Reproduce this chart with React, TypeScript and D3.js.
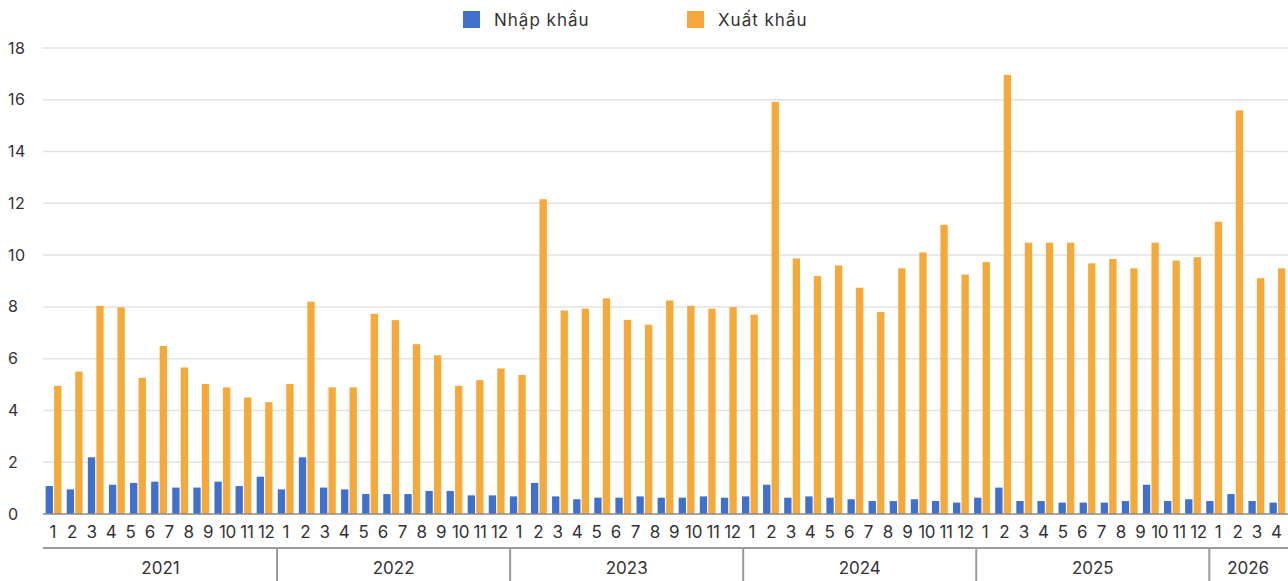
import React, { useEffect, useRef } from 'react';
import * as d3 from 'd3';

// Nhập khẩu (blue) and Xuất khẩu (orange), one value per bar
const imports = [
  1.08, 0.95, 2.19, 1.13, 1.2, 1.25, 1.02, 1.02, 1.25, 1.08, 1.44, 0.95,
  2.19, 1.02, 0.95, 0.77, 0.77, 0.77, 0.89, 0.89, 0.72, 0.72, 0.68, 1.2,
  0.68, 0.57, 0.63, 0.63, 0.68, 0.63, 0.63, 0.68, 0.63, 0.68, 1.13, 0.63,
  0.68, 0.63, 0.57, 0.5, 0.5, 0.57, 0.5, 0.44, 0.63, 1.02, 0.5, 0.5,
  0.44, 0.44, 0.44, 0.5, 1.13, 0.5, 0.57, 0.5, 0.77, 0.5, 0.44,
];
const exports = [
  4.95, 5.5, 8.04, 7.98, 5.26, 6.49, 5.66, 5.02, 4.89, 4.5, 4.32, 5.02,
  8.2, 4.89, 4.89, 7.73, 7.49, 6.56, 6.13, 4.95, 5.17, 5.62, 5.37, 12.16,
  7.86, 7.93, 8.33, 7.5, 7.31, 8.25, 8.04, 7.93, 7.99, 7.7, 15.92, 9.87,
  9.19, 9.6, 8.74, 7.8, 9.49, 10.1, 11.17, 9.25, 9.73, 16.96, 10.48, 10.48,
  10.48, 9.68, 9.85, 9.49, 10.48, 9.79, 9.92, 11.29, 15.59, 9.11, 9.49,
];

const years = ['2021', '2022', '2023', '2024', '2025', '2026'];
const monthsPerYear = [12, 12, 12, 12, 12, 4];
const yTicks = [0, 2, 4, 6, 8, 10, 12, 14, 16, 18];

const W = 1288;
const H = 581;
const BLUE = '#3f70cc';
const ORANGE = '#f6a93b';
const FONT = 'Inter, "Noto Sans", sans-serif';

export default function App() {
  const svgRef = useRef<SVGSVGElement>(null);

  useEffect(() => {
    if (!svgRef.current) return;
    const svg = d3.select(svgRef.current);
    svg.selectAll('*').remove();

    const left = 43;
    const right = W;
    const y = d3.scaleLinear().domain([0, 18]).range([514, 48]);

    // gridlines
    svg.append('g')
      .selectAll('line')
      .data(yTicks.filter(t => t > 0))
      .join('line')
      .attr('x1', left)
      .attr('x2', right)
      .attr('y1', d => y(d))
      .attr('y2', d => y(d))
      .attr('stroke', '#e2e2e2')
      .attr('stroke-width', 1.5);

    // y labels (left aligned)
    svg.append('g')
      .selectAll('text')
      .data(yTicks)
      .join('text')
      .attr('x', 8)
      .attr('y', d => y(d))
      .attr('dy', '0.35em')
      .attr('font-family', FONT)
      .attr('font-size', 16)
      .attr('letter-spacing', 0.5)
      .attr('fill', '#333')
      .text(d => d);

    // bars
    const idx = imports.map((_, i) => i);
    const x0 = d3.scaleBand<number>()
      .domain(idx)
      .range([left, right])
      .paddingInner(0.25)
      .paddingOuter(0.125);
    const x1 = d3.scaleBand<string>()
      .domain(['imp', 'exp'])
      .range([0, x0.bandwidth()])
      .paddingInner(0.14);

    const bars = svg.append('g');
    bars.selectAll('.imp')
      .data(imports)
      .join('rect')
      .attr('class', 'imp')
      .attr('x', (_, i) => (x0(i) || 0) + (x1('imp') || 0))
      .attr('y', d => y(d))
      .attr('width', x1.bandwidth())
      .attr('height', d => y(0) - y(d))
      .attr('fill', BLUE);
    bars.selectAll('.exp')
      .data(exports)
      .join('rect')
      .attr('class', 'exp')
      .attr('x', (_, i) => (x0(i) || 0) + (x1('exp') || 0))
      .attr('y', d => y(d))
      .attr('width', x1.bandwidth())
      .attr('height', d => y(0) - y(d))
      .attr('fill', ORANGE);

    // baseline
    svg.append('line')
      .attr('x1', left).attr('x2', right)
      .attr('y1', y(0)).attr('y2', y(0))
      .attr('stroke', '#8a8a8a')
      .attr('stroke-width', 1.5);

    // month labels
    const months: { key: string; label: string }[] = [];
    years.forEach((yr, yi) => {
      for (let m = 1; m <= monthsPerYear[yi]; m++) months.push({ key: `${yr}-${m}`, label: String(m) });
    });
    const xm = d3.scaleBand<string>()
      .domain(months.map(d => d.key))
      .range([44, 1287]);
    svg.append('g')
      .selectAll('text')
      .data(months)
      .join('text')
      .attr('x', d => (xm(d.key) || 0) + xm.bandwidth() / 2 - 1)
      .attr('y', 532)
      .attr('dy', '0.35em')
      .attr('text-anchor', 'middle')
      .attr('font-family', FONT)
      .attr('font-size', 17)
      .attr('letter-spacing', -0.3)
      .attr('fill', '#333')
      .text(d => d.label);

    // year axis
    svg.append('line')
      .attr('x1', left).attr('x2', right)
      .attr('y1', 548).attr('y2', 548)
      .attr('stroke', '#9a9a9a')
      .attr('stroke-width', 2);

    const yearSpans = years.map((yr, yi) => {
      const first = `${yr}-1`;
      const last = `${yr}-${monthsPerYear[yi]}`;
      return { yr, x0: xm(first) || 0, x1: (xm(last) || 0) + xm.bandwidth() };
    });
    svg.append('g')
      .selectAll('line')
      .data(yearSpans.slice(1))
      .join('line')
      .attr('x1', d => d.x0).attr('x2', d => d.x0)
      .attr('y1', 548).attr('y2', H)
      .attr('stroke', '#9a9a9a')
      .attr('stroke-width', 2);
    svg.append('g')
      .selectAll('text')
      .data(yearSpans)
      .join('text')
      .attr('x', d => (d.x0 + Math.min(d.x1, W)) / 2)
      .attr('y', 568)
      .attr('dy', '0.35em')
      .attr('text-anchor', 'middle')
      .attr('font-family', FONT)
      .attr('font-size', 17)
      .attr('fill', '#333')
      .text(d => d.yr);

    // legend
    const legend = [
      { name: 'Nhập khẩu', color: BLUE, x: 463 },
      { name: 'Xuất khẩu', color: ORANGE, x: 687 },
    ];
    const lg = svg.append('g')
      .selectAll('g')
      .data(legend)
      .join('g')
      .attr('transform', d => `translate(${d.x},11)`);
    lg.append('rect')
      .attr('width', 17)
      .attr('height', 17)
      .attr('fill', d => d.color);
    lg.append('text')
      .attr('x', 31)
      .attr('y', 9)
      .attr('dy', '0.35em')
      .attr('font-family', FONT)
      .attr('font-size', 17)
      .attr('letter-spacing', 1)
      .attr('fill', '#333')
      .text(d => d.name);
  }, []);

  return (
    <svg
      ref={svgRef}
      width={W}
      height={H}
      style={{ position: 'absolute', left: 0, top: 0, background: '#fff' }}
    />
  );
}
